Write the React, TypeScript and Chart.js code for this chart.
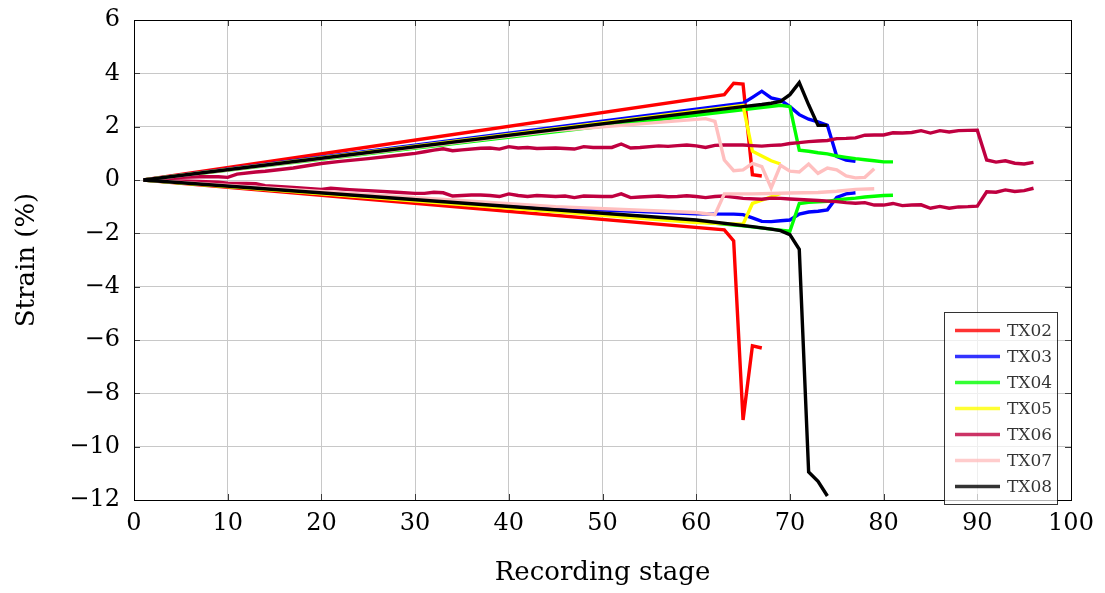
import { useEffect, useRef } from "react";
import { Chart, registerables } from "chart.js";

Chart.register(...registerables);

// Axis ranges and tick steps
const X_MIN = 0;
const X_MAX = 100;
const X_STEP = 10;
const Y_MIN = -12;
const Y_MAX = 6;
const Y_STEP = 2;

const X_TITLE = "Recording stage";
const Y_TITLE = "Strain (%)";

// [recording stage, strain %] vertices for each gauge pair
const TX02_UPPER = [[1, 0], [63, 3.2], [64, 3.63], [65, 3.6], [66, 0.2], [67, 0.15]];
const TX02_LOWER = [[1, 0], [63, -1.87], [64, -2.28], [65, -9.0], [66, -6.22], [67, -6.3]];

const TX03_UPPER = [[1, 0], [65, 2.88], [66, 3.1], [67, 3.33], [68, 3.08], [69, 3.0], [70, 2.75], [71, 2.45], [72, 2.28], [73, 2.18], [74, 2.05], [75, 0.88], [76, 0.75], [77, 0.7]];
const TX03_LOWER = [[1, 0], [45, -1.05], [60, -1.27], [64, -1.28], [65, -1.3], [66, -1.42], [67, -1.55], [68, -1.56], [69, -1.53], [70, -1.5], [71, -1.28], [72, -1.2], [73, -1.17], [74, -1.12], [75, -0.65], [76, -0.52], [77, -0.48]];

const TX04_UPPER = [[1, 0], [69, 2.8], [70, 2.75], [71, 1.12], [72, 1.08], [73, 1.02], [74, 0.98], [75, 0.9], [76, 0.85], [77, 0.8], [78, 0.76], [79, 0.72], [80, 0.68], [81, 0.68]];
const TX04_LOWER = [[1, 0], [60, -1.56], [65, -1.72], [69, -1.88], [70, -1.92], [71, -0.88], [72, -0.84], [73, -0.82], [74, -0.8], [75, -0.75], [76, -0.71], [77, -0.68], [78, -0.64], [79, -0.61], [80, -0.58], [81, -0.57]];

const TX05_UPPER = [[1, 0], [65, 2.8], [66, 1.08], [67, 0.9], [68, 0.72], [69, 0.6]];
const TX05_LOWER = [[1, 0], [60, -1.6], [65, -1.66], [66, -0.88], [67, -0.76], [68, -0.63], [69, -0.5]];

const TX06_UPPER = [
  [1, 0], [3, 0.06], [5, 0.1], [7, 0.12], [9, 0.12], [10, 0.1], [11, 0.22], [13, 0.3], [14, 0.33],
  [17, 0.45], [20, 0.62], [22, 0.7], [25, 0.8], [28, 0.92], [30, 1.0], [31, 1.06], [32, 1.12],
  [33, 1.17], [34, 1.1], [35, 1.13], [37, 1.19], [38, 1.2], [39, 1.16], [40, 1.25], [41, 1.2],
  [42, 1.22], [43, 1.18], [44, 1.19], [45, 1.2], [46, 1.18], [47, 1.16], [48, 1.25], [49, 1.22],
  [51, 1.22], [52, 1.35], [53, 1.2], [54, 1.22], [56, 1.28], [57, 1.26], [58, 1.29], [59, 1.31],
  [60, 1.28], [61, 1.22], [62, 1.3], [63, 1.31], [64, 1.31], [65, 1.31], [66, 1.29], [67, 1.27],
  [68, 1.3], [69, 1.31], [70, 1.37], [71, 1.4], [72, 1.44], [73, 1.46], [74, 1.48], [75, 1.55],
  [76, 1.56], [77, 1.58], [78, 1.68], [79, 1.69], [80, 1.69], [81, 1.77], [82, 1.76], [83, 1.78],
  [84, 1.85], [85, 1.76], [86, 1.85], [87, 1.8], [88, 1.85], [89, 1.86], [90, 1.87], [91, 0.75],
  [92, 0.67], [93, 0.72], [94, 0.63], [95, 0.6], [96, 0.66],
];
const TX06_LOWER = [
  [1, 0], [3, -0.02], [5, -0.04], [7, -0.05], [9, -0.08], [10, -0.12], [12, -0.13], [13, -0.14],
  [14, -0.21], [17, -0.28], [20, -0.35], [21, -0.31], [23, -0.36], [25, -0.4], [28, -0.46],
  [30, -0.5], [31, -0.5], [32, -0.46], [33, -0.48], [34, -0.6], [36, -0.56], [37, -0.56],
  [38, -0.58], [39, -0.62], [40, -0.52], [41, -0.58], [42, -0.62], [43, -0.58], [44, -0.6],
  [45, -0.62], [46, -0.6], [47, -0.66], [48, -0.6], [50, -0.62], [51, -0.62], [52, -0.52],
  [53, -0.66], [54, -0.64], [56, -0.6], [57, -0.63], [58, -0.62], [59, -0.59], [60, -0.62],
  [61, -0.66], [62, -0.62], [63, -0.6], [65, -0.69], [67, -0.72], [68, -0.68], [69, -0.69],
  [70, -0.71], [72, -0.75], [73, -0.77], [75, -0.81], [76, -0.85], [77, -0.87], [78, -0.85],
  [79, -0.94], [80, -0.94], [81, -0.88], [82, -0.96], [83, -0.94], [84, -0.93], [85, -1.06],
  [86, -0.99], [87, -1.06], [88, -1.01], [89, -1.0], [90, -0.98], [91, -0.44], [92, -0.46],
  [93, -0.37], [94, -0.43], [95, -0.4], [96, -0.31],
];

const TX07_UPPER = [[1, 0], [45, 1.85], [61, 2.3], [62, 2.2], [63, 0.75], [64, 0.35], [65, 0.38], [66, 0.62], [67, 0.5], [68, -0.3], [69, 0.55], [70, 0.33], [71, 0.3], [72, 0.6], [73, 0.25], [74, 0.45], [75, 0.38], [76, 0.15], [77, 0.08], [78, 0.1], [79, 0.42]];
const TX07_LOWER = [[1, 0], [45, -1.0], [60, -1.22], [62, -1.3], [63, -0.52], [66, -0.52], [70, -0.49], [73, -0.47], [75, -0.42], [77, -0.35], [79, -0.33]];

const TX08_UPPER = [[1, 0], [65, 2.75], [67, 2.83], [68, 2.88], [69, 2.95], [70, 3.2], [71, 3.65], [72, 2.82], [73, 2.05], [74, 2.05]];
const TX08_LOWER = [[1, 0], [60, -1.5], [66, -1.75], [68, -1.84], [69, -1.9], [70, -2.05], [71, -2.6], [72, -10.95], [73, -11.3], [74, -11.85]];

const SERIES = [
  { label: "TX02", color: "rgb(255,0,0)", upper: TX02_UPPER, lower: TX02_LOWER },
  { label: "TX03", color: "rgb(0,0,255)", upper: TX03_UPPER, lower: TX03_LOWER },
  { label: "TX04", color: "rgb(0,255,0)", upper: TX04_UPPER, lower: TX04_LOWER },
  { label: "TX05", color: "rgb(255,255,0)", upper: TX05_UPPER, lower: TX05_LOWER },
  { label: "TX06", color: "rgb(191,0,64)", upper: TX06_UPPER, lower: TX06_LOWER },
  { label: "TX07", color: "rgb(255,191,191)", upper: TX07_UPPER, lower: TX07_LOWER },
  { label: "TX08", color: "rgb(0,0,0)", upper: TX08_UPPER, lower: TX08_LOWER },
];

const FONT_FAMILY = '"DejaVu Serif", "Liberation Serif", serif';
const GRID_COLOR = "rgb(200,200,200)";

const formatTick = (v: number) => (v < 0 ? "\u2212" + Math.abs(v) : String(v));

// Axis frame with inward tick marks on all four sides
const framePlugin = {
  id: "frame",
  beforeDatasetsDraw(chart: any) {
    const { ctx, chartArea: a, scales } = chart;
    ctx.save();
    ctx.strokeStyle = "rgb(60,60,60)";
    ctx.lineWidth = 1;
    const len = 6;
    ctx.beginPath();
    for (let v = X_MIN; v <= X_MAX; v += X_STEP) {
      const px = Math.round(scales.x.getPixelForValue(v)) + 0.5;
      ctx.moveTo(px, a.bottom);
      ctx.lineTo(px, a.bottom - len);
      ctx.moveTo(px, a.top);
      ctx.lineTo(px, a.top + len);
    }
    for (let v = Y_MIN; v <= Y_MAX; v += Y_STEP) {
      const py = Math.round(scales.y.getPixelForValue(v)) + 0.5;
      ctx.moveTo(a.left, py);
      ctx.lineTo(a.left + len, py);
      ctx.moveTo(a.right, py);
      ctx.lineTo(a.right - len, py);
    }
    ctx.stroke();
    ctx.strokeStyle = "#000";
    ctx.strokeRect(Math.round(a.left) + 0.5, Math.round(a.top) + 0.5, Math.round(a.right - a.left), Math.round(a.bottom - a.top));
    ctx.restore();
  },
};

// Axis titles
const titlesPlugin = {
  id: "titles",
  afterDraw(chart: any) {
    const { ctx, chartArea: a } = chart;
    ctx.save();
    ctx.fillStyle = "#000";
    ctx.font = `26px ${FONT_FAMILY}`;
    ctx.textAlign = "center";
    ctx.textBaseline = "middle";
    ctx.fillText(X_TITLE, (a.left + a.right) / 2, 573);
    ctx.translate(27, (a.top + a.bottom) / 2);
    ctx.rotate(-Math.PI / 2);
    ctx.fillText(Y_TITLE, 0, 0);
    ctx.restore();
  },
};

// Boxed legend in the lower right corner of the plot
const legendPlugin = {
  id: "boxLegend",
  afterDatasetsDraw(chart: any) {
    const { ctx } = chart;
    const left = 944.5;
    const top = 312.5;
    const w = 113;
    const h = 192;
    ctx.save();
    ctx.fillStyle = "rgba(255,255,255,0.7)";
    ctx.fillRect(left, top, w, h);
    ctx.globalAlpha = 0.8;
    ctx.strokeStyle = "#000";
    ctx.lineWidth = 1;
    ctx.strokeRect(left, top, w, h);
    ctx.font = `17px ${FONT_FAMILY}`;
    ctx.textBaseline = "middle";
    ctx.textAlign = "left";
    SERIES.forEach((s, i) => {
      const y = 330.5 + i * 26;
      ctx.strokeStyle = s.color;
      ctx.lineWidth = 3.5;
      ctx.beginPath();
      ctx.moveTo(955, y);
      ctx.lineTo(1000, y);
      ctx.stroke();
      ctx.fillStyle = "#000";
      ctx.fillText(s.label, 1007, y + 1);
    });
    ctx.restore();
  },
};

export default function App() {
  const canvasRef = useRef<HTMLCanvasElement>(null);

  useEffect(() => {
    document.body.style.margin = "0";
    const canvas = canvasRef.current;
    if (!canvas) return;

    const total = SERIES.length * 2;
    const datasets: any[] = [];
    SERIES.forEach((s, i) => {
      [s.upper, s.lower].forEach((pts, j) => {
        const idx = i * 2 + j;
        datasets.push({
          label: s.label,
          data: pts.map(([x, y]) => ({ x, y })),
          borderColor: s.color,
          backgroundColor: s.color,
          borderWidth: 3.4,
          pointRadius: 0,
          pointHoverRadius: 0,
          fill: false,
          tension: 0,
          order: total - idx,
        });
      });
    });

    const tickFont = { family: FONT_FAMILY, size: 24 };

    const chart = new Chart(canvas, {
      type: "line",
      data: { datasets },
      options: {
        animation: false,
        responsive: false,
        devicePixelRatio: 1,
        layout: { padding: { left: 0, right: 34, top: 20, bottom: 0 } },
        plugins: {
          legend: { display: false },
          tooltip: { enabled: false },
        },
        scales: {
          x: {
            type: "linear",
            min: X_MIN,
            max: X_MAX,
            ticks: { stepSize: X_STEP, font: tickFont, color: "#000", padding: 9, maxRotation: 0, callback: (v: any) => formatTick(Number(v)) },
            grid: { color: GRID_COLOR, lineWidth: 1, drawTicks: false },
            border: { display: false },
            afterFit: (scale: any) => {
              scale.height = 93;
              scale.paddingLeft = 0;
              scale.paddingRight = 0;
            },
          },
          y: {
            type: "linear",
            min: Y_MIN,
            max: Y_MAX,
            ticks: { stepSize: Y_STEP, font: tickFont, color: "#000", padding: 14, callback: (v: any) => formatTick(Number(v)) },
            grid: { color: GRID_COLOR, lineWidth: 1, drawTicks: false },
            border: { display: false },
            afterFit: (scale: any) => {
              scale.width = 134;
              scale.paddingTop = 0;
              scale.paddingBottom = 0;
            },
          },
        },
      } as any,
      plugins: [framePlugin, legendPlugin, titlesPlugin],
    });

    return () => chart.destroy();
  }, []);

  return <canvas ref={canvasRef} width={1105} height={593} style={{ display: "block" }} />;
}
